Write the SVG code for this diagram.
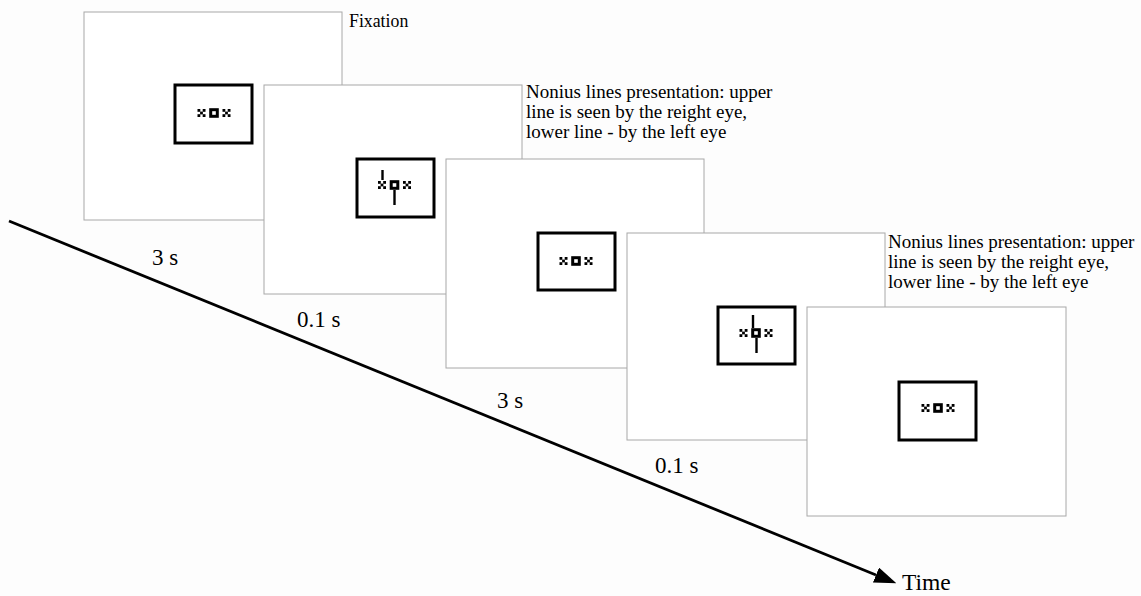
<svg xmlns="http://www.w3.org/2000/svg" xmlns:xlink="http://www.w3.org/1999/xlink" width="1141" height="596" viewBox="0 0 1141 596">
<style>
.bg{fill:#fdfdfd}
.frame{fill:#ffffff;stroke:#a8a8a8;stroke-width:1}
.box{fill:#ffffff;stroke:#000;stroke-width:3}
.sq{fill:none;stroke:#000;stroke-width:3}
.xm{fill:#000}
.nl{stroke:#000;stroke-width:2.4}
.time{stroke:#000;stroke-width:2.8;fill:none}
</style>
<defs>
<g id="xmark">
<rect x="-4" y="-4" width="2.8" height="2.8"/>
<rect x="1.2" y="-4" width="2.8" height="2.8"/>
<rect x="-1.4" y="-1.4" width="2.8" height="2.8"/>
<rect x="-4" y="1.2" width="2.8" height="2.8"/>
<rect x="1.2" y="1.2" width="2.8" height="2.8"/>
</g>
<g id="fix">
<use xlink:href="#xmark" x="-12.5" y="0" class="xm"/>
<rect class="sq" x="-3.3" y="-3.3" width="6.6" height="6.6"/>
<use xlink:href="#xmark" x="12.5" y="0" class="xm"/>
</g>
<marker id="arrow" markerUnits="userSpaceOnUse" markerWidth="22" markerHeight="16" viewBox="0 0 22 16" refX="0" refY="8" orient="auto">
<path d="M0,0 L22,8 L0,16 z" fill="#000"/>
</marker>
</defs>
<rect class="bg" x="0" y="0" width="1141" height="596"/>

<g id="connectors">
<line class="time" x1="9" y1="221" x2="876" y2="575" marker-end="url(#arrow)"/>
</g>

<g id="frame1" transform="translate(84,12)">
<rect class="frame" x="0" y="0" width="258" height="208"/>
<rect class="box" x="91" y="73" width="77" height="58"/>
<use xlink:href="#fix" x="130" y="101"/>
</g>

<g id="frame2" transform="translate(264,85)">
<rect class="frame" x="0" y="0" width="258" height="209"/>
<rect class="box" x="93" y="74" width="77" height="58"/>
<use xlink:href="#fix" x="130.5" y="100"/>
<line class="nl" x1="118.5" y1="85" x2="118.5" y2="95"/>
<line class="nl" x1="130.5" y1="105" x2="130.5" y2="120"/>
</g>

<g id="frame3" transform="translate(446,159)">
<rect class="frame" x="0" y="0" width="258" height="209"/>
<rect class="box" x="92" y="74" width="77" height="57"/>
<use xlink:href="#fix" x="130" y="102"/>
</g>

<g id="frame4" transform="translate(627,233)">
<rect class="frame" x="0" y="0" width="258" height="207"/>
<rect class="box" x="91" y="74" width="77" height="57"/>
<use xlink:href="#fix" x="129" y="100"/>
<line class="nl" x1="126" y1="82" x2="126" y2="95"/>
<line class="nl" x1="129.5" y1="105" x2="129.5" y2="120"/>
</g>

<g id="frame5" transform="translate(807,307)">
<rect class="frame" x="0" y="0" width="259" height="209"/>
<rect class="box" x="92" y="75" width="77" height="58"/>
<use xlink:href="#fix" x="131" y="101"/>
</g>

<g id="labels" font-family="'Liberation Serif', 'Times New Roman', serif" fill="#000">
<text x="349" y="27" font-size="17.8">Fixation</text>
<g font-size="19">
<text x="526" y="98">Nonius lines presentation: upper</text>
<text x="526" y="118">line is seen by the reight eye,</text>
<text x="526" y="138">lower line - by the left eye</text>
<text x="888" y="248">Nonius lines presentation: upper</text>
<text x="888" y="268">line is seen by the reight eye,</text>
<text x="888" y="288">lower line - by the left eye</text>
</g>
<g font-size="23">
<text x="152" y="265">3 s</text>
<text x="297" y="327">0.1 s</text>
<text x="497" y="408">3 s</text>
<text x="655" y="473">0.1 s</text>
</g>
<text x="902" y="590" font-size="23.5">Time</text>
</g>
</svg>
